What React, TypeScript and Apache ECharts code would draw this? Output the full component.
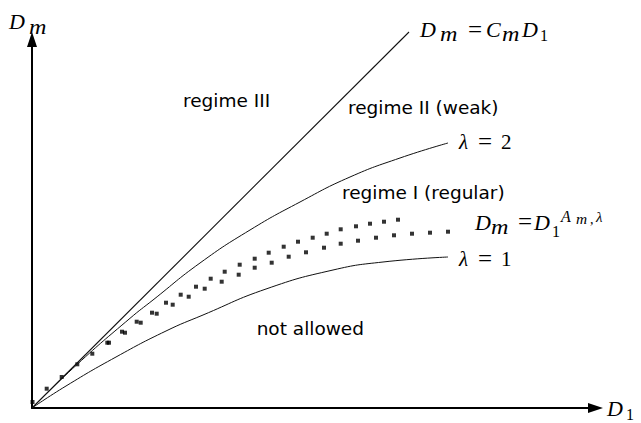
import React, { useEffect, useRef } from "react";
import * as echarts from "echarts";

// Schematic units: 1 unit = 1 px of the reference plot area (origin bottom-left)
const boundaryLine: [number, number][] = [
  [0, 0],
  [377, 376],
];

const lambda2Curve: [number, number][] = [
  [0, 0], [45, 43.5], [98, 89.7], [121, 108], [168, 145], [218, 178],
  [268, 206], [318, 231], [368, 250], [416, 265],
];

const lambda1Curve: [number, number][] = [
  [0, 0], [34, 22], [84, 51], [134, 77], [171, 93], [234, 119],
  [301, 138], [351, 146], [416, 151],
];

const upperDots: [number, number][] = [
  [0.5, 6], [14.7, 19.3], [29.7, 31], [45.3, 43.7], [60.3, 54.3], [75.3, 65.3],
  [90, 76.3], [104.7, 86.3], [120, 95.3], [134, 105.3], [148.7, 113.3],
  [164, 121.3], [178.7, 129.3], [192.7, 136.3], [207.7, 143.3], [222.7, 149.3],
  [236.7, 155.3], [251.7, 161.3], [266, 166.3], [280.7, 170.3], [294.7, 174.3],
  [308.7, 178.7], [324, 181.7], [338, 184.3], [352, 186.3], [366, 188.3],
];

const lowerDots: [number, number][] = [
  [77, 65.3], [93, 75.3], [108.7, 85.3], [124.7, 94.3], [140.7, 103.3],
  [156.7, 111.3], [172.7, 119.3], [189.7, 126.3], [206.7, 133.3], [222.7, 140.3],
  [239.7, 145.3], [256.7, 151.3], [274, 155.7], [292, 160.3], [308.7, 164.3],
  [326, 167.3], [344, 170.3], [362, 172.7], [380, 174.3], [398, 175.3], [416, 176.3],
];

const regionTexts = ["regime III", "regime II (weak)", "regime I (regular)", "not allowed"];

type Piece = { t: string; x: number; b: number; s: number; it?: boolean; sx?: number };

function piece(p: Piece) {
  const font = `${p.it ? "italic " : ""}${p.s}px "Liberation Serif"`;
  return {
    type: "text",
    x: p.x,
    y: p.b - 0.33 * p.s,
    scaleX: p.sx ?? 1,
    silent: true,
    style: {
      text: p.t,
      font,
      fill: "#000",
      align: "left",
      textAlign: "left",
      verticalAlign: "middle",
      textVerticalAlign: "middle",
    },
  };
}

function sans(text: string, x: number, y: number, align: string) {
  return {
    type: "text",
    x,
    y,
    silent: true,
    style: {
      text,
      font: '18.5px "DejaVu Sans"',
      fill: "#000",
      align,
      textAlign: align,
      verticalAlign: "middle",
      textVerticalAlign: "middle",
    },
  };
}

export default function App() {
  const ref = useRef<HTMLDivElement>(null);
  useEffect(() => {
    if (!ref.current) return;
    document.body.style.margin = "0";
    const chart = echarts.init(ref.current, null, { renderer: "svg" });
    const lineColor = "#111";
    const M = 1.15;
    const mathPieces: Piece[] = [
      // D_m (axis)
      { t: "D", x: 9, b: 28.3, s: 22, it: true },
      { t: "m", x: 29, b: 34, s: 21, it: true, sx: M },
      // D_1 (axis)
      { t: "D", x: 607, b: 416, s: 22, it: true },
      { t: "1", x: 626, b: 420, s: 16 },
      // D_m = C_m D_1
      { t: "D", x: 420, b: 36.7, s: 22, it: true },
      { t: "m", x: 440, b: 41, s: 21, it: true, sx: M },
      { t: "=", x: 468, b: 37.5, s: 25 },
      { t: "C", x: 486, b: 36.7, s: 22, it: true },
      { t: "m", x: 502, b: 41, s: 21, it: true, sx: M },
      { t: "D", x: 522, b: 36.7, s: 22, it: true },
      { t: "1", x: 540, b: 41, s: 16 },
      // λ = 2
      { t: "λ", x: 459, b: 149.3, s: 21, it: true },
      { t: "=", x: 478, b: 150, s: 25 },
      { t: "2", x: 501, b: 149.3, s: 21 },
      // λ = 1
      { t: "λ", x: 459, b: 266, s: 21, it: true },
      { t: "=", x: 478, b: 266.7, s: 25 },
      { t: "1", x: 501, b: 266, s: 21 },
      // D_m = D_1^{A_m,λ}
      { t: "D", x: 475, b: 229.3, s: 22, it: true },
      { t: "m", x: 491, b: 233.5, s: 21, it: true, sx: M },
      { t: "=", x: 518, b: 230, s: 25 },
      { t: "D", x: 534, b: 229.3, s: 22, it: true },
      { t: "1", x: 552, b: 236.5, s: 16 },
      { t: "A", x: 561, b: 221.7, s: 16, it: true },
      { t: "m", x: 576, b: 224, s: 14, it: true, sx: 1.1 },
      { t: ",", x: 590, b: 224, s: 14 },
      { t: "λ", x: 596, b: 221.5, s: 15, it: true },
    ];

    const option: any = {
      animation: false,
      backgroundColor: "#fff",
      grid: { left: 32, right: 45.5, top: 39.5, bottom: 15 },
      xAxis: {
        type: "value",
        min: 0,
        max: 563.5,
        axisLine: {
          show: true,
          onZero: false,
          symbol: ["none", "triangle"],
          symbolSize: [10, 15],
          lineStyle: { color: "#000", width: 2 },
        },
        axisTick: { show: false },
        axisLabel: { show: false },
        splitLine: { show: false },
      },
      yAxis: {
        type: "value",
        min: 0,
        max: 368.5,
        axisLine: {
          show: true,
          onZero: false,
          symbol: ["none", "triangle"],
          symbolSize: [10, 15],
          lineStyle: { color: "#000", width: 2 },
        },
        axisTick: { show: false },
        axisLabel: { show: false },
        splitLine: { show: false },
      },
      series: [
        {
          type: "line",
          data: boundaryLine,
          showSymbol: false,
          clip: false,
          lineStyle: { color: lineColor, width: 1.1 },
        },
        {
          type: "line",
          data: lambda2Curve,
          smooth: 0.5,
          showSymbol: false,
          clip: false,
          lineStyle: { color: lineColor, width: 1 },
        },
        {
          type: "line",
          data: lambda1Curve,
          smooth: 0.5,
          showSymbol: false,
          clip: false,
          lineStyle: { color: lineColor, width: 1 },
        },
        {
          type: "scatter",
          data: upperDots,
          symbol: "rect",
          symbolSize: 4,
          clip: false,
          itemStyle: { color: "#000" },
        },
        {
          type: "scatter",
          data: lowerDots,
          symbol: "rect",
          symbolSize: 4,
          clip: false,
          itemStyle: { color: "#000" },
        },
      ],
      graphic: [
        sans(regionTexts[0], 183, 100.5, "left"),
        sans(regionTexts[1], 348, 107, "left"),
        sans(regionTexts[2], 342, 192, "left"),
        sans(regionTexts[3], 364, 328, "right"),
        ...mathPieces.map(piece),
      ],
    };
    chart.setOption(option);
    return () => chart.dispose();
  }, []);
  return <div ref={ref} style={{ width: 641, height: 423 }} />;
}
